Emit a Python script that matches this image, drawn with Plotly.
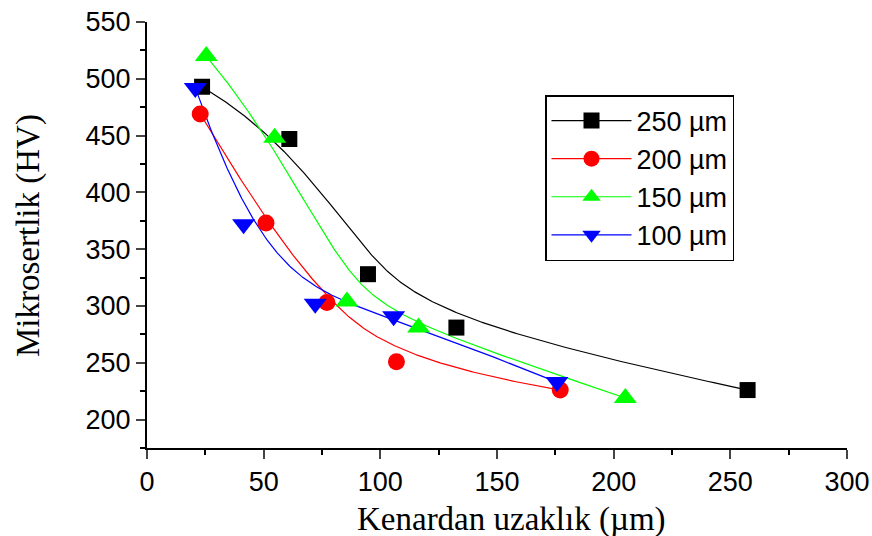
import numpy as np
import plotly.graph_objects as go

# Data
series_names = ["250 µm", "200 µm", "150 µm", "100 µm"]
x_250 = [23.6, 61.0, 94.7, 132.6, 257.4]
y_250 = [493, 447, 328, 281, 226]
x_200 = [22.8, 51.0, 77.1, 106.9, 177.1]
y_200 = [469, 373, 303, 251, 226]
x_150 = [25.4, 54.7, 85.7, 116.4, 205.0]
y_150 = [520, 448, 304, 281, 219]
x_100 = [20.7, 41.4, 72.1, 105.7, 175.7]
y_100 = [492, 372, 302, 291, 233]

colors = ["#000000", "#FF0000", "#00FF00", "#0000FF"]
symbols = ["square", "circle", "triangle-up", "triangle-down"]
sizes = [16, 17, 20, 20]

x_ticks = [0, 50, 100, 150, 200, 250, 300]
y_ticks = [200, 250, 300, 350, 400, 450, 500, 550]


def bspline(px, py, k=3, num=300):
    px = np.asarray(px, float)
    py = np.asarray(py, float)
    n = len(px)
    k = min(k, n - 1)
    knots = np.array([0] * (k + 1) + list(range(1, n - k)) + [n - k] * (k + 1), float)
    ts = np.linspace(0, n - k, num)
    out_x, out_y = [], []
    for t in ts:
        N = np.zeros(len(knots) - 1)
        for i in range(len(knots) - 1):
            if knots[i] <= t < knots[i + 1]:
                N[i] = 1.0
        if t >= knots[-1]:
            N[n - 1] = 1.0
        for d in range(1, k + 1):
            Nn = np.zeros(len(knots) - 1 - d)
            for i in range(len(Nn)):
                a = 0.0
                den1 = knots[i + d] - knots[i]
                if den1 > 0:
                    a += (t - knots[i]) / den1 * N[i]
                den2 = knots[i + d + 1] - knots[i + 1]
                if den2 > 0:
                    a += (knots[i + d + 1] - t) / den2 * N[i + 1]
                Nn[i] = a
            N = Nn
        out_x.append(float(np.dot(N[:n], px)))
        out_y.append(float(np.dot(N[:n], py)))
    return out_x, out_y


xs = [x_250, x_200, x_150, x_100]
ys = [y_250, y_200, y_150, y_100]

fig = go.Figure()
for name, xv, yv, c, s, sz in zip(series_names, xs, ys, colors, symbols, sizes):
    cx, cy = bspline(xv, yv)
    fig.add_trace(go.Scatter(x=cx, y=cy, mode="lines", line=dict(color=c, width=1.2),
                             showlegend=False, hoverinfo="skip"))
for name, xv, yv, c, s, sz in zip(series_names, xs, ys, colors, symbols, sizes):
    fig.add_trace(go.Scatter(x=xv, y=yv, mode="markers", name=name,
                             marker=dict(symbol=s, size=sz, color=c, line=dict(width=0)),
                             showlegend=False))
for i, (name, c, s, sz) in enumerate(zip(series_names, colors, symbols, sizes)):
    fig.add_trace(go.Scatter(x=[None], y=[None], mode="lines+markers", name=name,
                             legendgroup="g%d" % i,
                             line=dict(color=c, width=1.2),
                             marker=dict(symbol=s, size=sz, color=c, line=dict(width=0))))

PL, PR, PT, PB = 147, 25, 22, 88
W, H = 872, 536
pw, ph = W - PL - PR, H - PT - PB


def px2paper(x, y):
    return (x - PL) / pw, (H - PB - y) / ph


lx, ly = px2paper(545, 95)
tx, ty = px2paper(511, 519)
yx, yy = px2paper(28, 235)

fig.update_layout(
    width=W, height=H,
    margin=dict(l=PL, r=PR, t=PT, b=PB),
    paper_bgcolor="white", plot_bgcolor="white",
    font=dict(family="Arial, Liberation Sans, sans-serif", size=27, color="black"),
    showlegend=True,
    legend=dict(x=lx, y=ly, xanchor="left", yanchor="top",
                bordercolor="black", borderwidth=1.5, bgcolor="white",
                itemwidth=80, font=dict(size=27), tracegroupgap=0,
                traceorder="grouped", itemsizing="trace"),
    xaxis=dict(range=[0, 300], tickvals=x_ticks, ticks="outside", ticklen=9, tickwidth=2,
               showline=True, linewidth=2, linecolor="black", showgrid=False, zeroline=False,
               automargin=False,
               minor=dict(dtick=25, ticks="outside", ticklen=5, tickwidth=2, tickcolor="black"),
               tickfont=dict(size=27)),
    yaxis=dict(range=[175, 550], tickvals=y_ticks, ticks="outside", ticklen=9, tickwidth=2,
               showline=True, linewidth=2, linecolor="black", showgrid=False, zeroline=False,
               automargin=False,
               minor=dict(dtick=25, ticks="outside", ticklen=5, tickwidth=2, tickcolor="black"),
               tickfont=dict(size=27)),
    annotations=[
        dict(text="Kenardan uzaklık (µm)", x=tx, y=ty, xref="paper", yref="paper",
             xanchor="center", yanchor="middle",
             showarrow=False, font=dict(family="Times New Roman, Liberation Serif, serif", size=33)),
        dict(text="Mikrosertlik (HV)", x=yx, y=yy, xref="paper", yref="paper",
             xanchor="center", yanchor="middle",
             showarrow=False, textangle=-90,
             font=dict(family="Times New Roman, Liberation Serif, serif", size=33)),
    ],
)

fig.write_html("out.html")
